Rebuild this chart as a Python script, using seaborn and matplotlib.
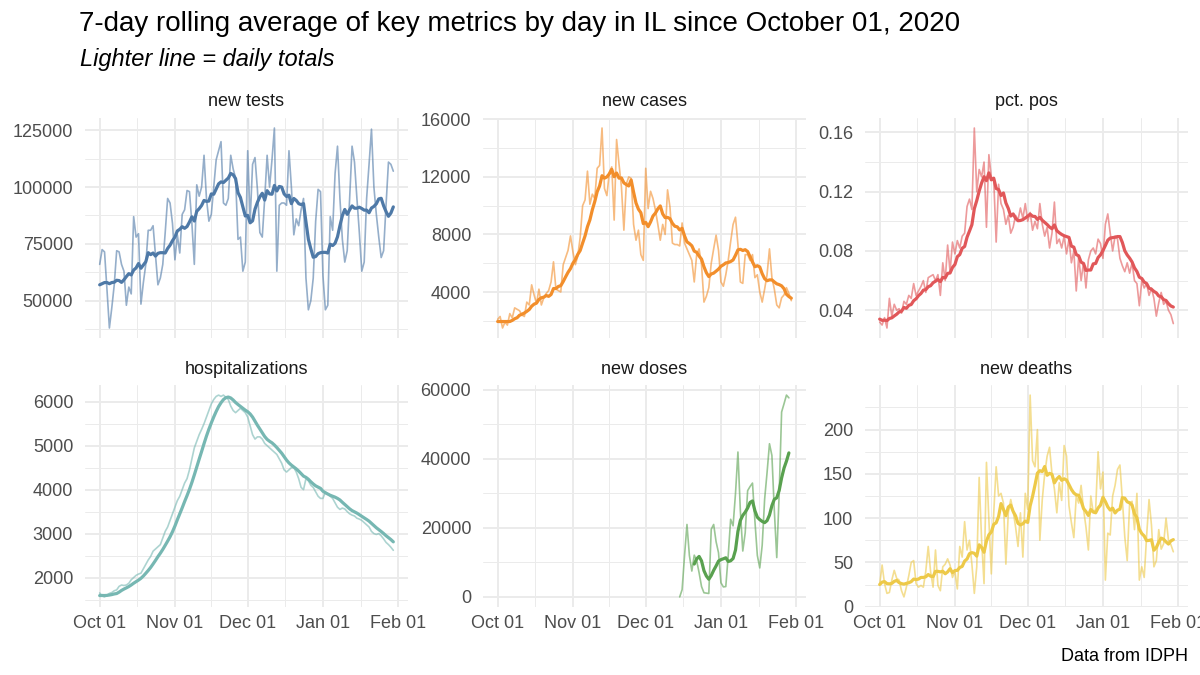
import numpy as np
import pandas as pd
import matplotlib
matplotlib.use("Agg")
import matplotlib.pyplot as plt
import matplotlib.dates as mdates
from matplotlib.ticker import FixedLocator, FixedFormatter
import seaborn as sns

# ---------------- data ----------------
START = "2020-10-01"
N_DAYS = 122
DOSES_START = "2020-12-15"
N_BEFORE = 6   # days before START (Sep 25-30), only feed the first rolling averages

metrics = ["new tests", "new cases", "pct. pos", "hospitalizations", "new doses", "new deaths"]
colors = ["#4E79A7", "#F28E2B", "#E15759", "#76B7B2", "#59A14F", "#EDC948"]

tests_before = [69000, 68000, 55000, 41500, 43500, 56000]
new_tests = [
    66000, 72500, 71500, 55000, 38000, 47000, 57000,
    72000, 71500, 66000, 63000, 48000, 56000, 53000,
    87000, 78000, 79500, 48500, 58000, 66000, 81000,
    81000, 83000, 70000, 57000, 60000, 66000, 80000,
    95000, 93000, 84000, 68000, 79000, 71000, 88000,
    90000, 98500, 98000, 84000, 66000, 101000, 96000,
    100000, 114000, 95000, 85000, 88000, 100000, 112000,
    116000, 120000, 93000, 92000, 95000, 114000, 108000,
    104000, 77000, 78000, 63000, 67000, 116000, 85000,
    110000, 113000, 99000, 80000, 78000, 95000, 114000,
    100000, 112000, 126000, 63000, 92000, 93000, 93000,
    92000, 116000, 100000, 79000, 86000, 83000, 90000,
    95000, 60000, 46000, 50000, 60000, 85000, 99000,
    98000, 61000, 46000, 48000, 87000, 81000, 106000,
    118000, 95000, 77000, 67000, 72000, 95000, 118000,
    111000, 95000, 80000, 63000, 67000, 95000, 110000,
    125500, 100000, 88000, 78000, 69000, 72000, 92000,
    111000, 110000, 107000,
]

cases_before = [2300, 1500, 1900, 1700, 2500, 1650]
new_cases = [
    2100, 2300, 1500, 1900, 1700, 2500, 2200,
    2900, 2800, 2700, 2400, 2300, 3300, 3100,
    4500, 3800, 3200, 4200, 3100, 3600, 3900,
    4100, 4700, 6100, 4200, 4100, 4000, 5900,
    6400, 6900, 7900, 6800, 5900, 6500, 7800,
    10000, 10400, 12400, 10100, 10800, 10500, 12600,
    12800, 15400, 11200, 10700, 12300, 12700, 9000,
    14600, 12900, 11300, 8300, 11500, 12000, 11900,
    8700, 7600, 8300, 6600, 6200, 12600, 9800,
    11000, 10500, 9700, 8700, 7600, 8700, 8000,
    11100, 9900, 7400, 7300, 7300, 7200, 8800,
    7400, 7000, 6600, 6200, 4700, 6600, 7000,
    5900, 3300, 3700, 4300, 6000, 7000, 7950,
    6900, 4700, 4400, 5200, 6200, 7500, 8700,
    9200, 7300, 4700, 4600, 6600, 6600, 6200,
    6600, 5000, 5200, 4000, 3300, 4200, 5200,
    7000, 5000, 4200, 3100, 2900, 3600, 3800,
    4300, 3900, 3400,
]

pct_before = [.036, .034, .030, .038, .033, .035]
pct_pos = [
    .032, .030, .035, .028, .048, .036, .044,
    .040, .041, .038, .046, .044, .050, .048,
    .058, .050, .053, .056, .060, .052, .062,
    .063, .064, .060, .064, .050, .072, .060,
    .084, .066, .086, .078, .087, .082, .090,
    .092, .110, .115, .108, .163, .120, .135,
    .130, .140, .096, .145, .130, .128, .086,
    .125, .112, .108, .098, .104, .092, .096,
    .104, .101, .109, .102, .112, .100, .106,
    .094, .100, .095, .112, .098, .090, .096,
    .082, .092, .113, .085, .088, .082, .090,
    .078, .088, .072, .080, .053, .076, .060,
    .072, .055, .074, .080, .082, .078, .088,
    .085, .075, .098, .105, .092, .080, .090,
    .088, .075, .070, .066, .072, .065, .072,
    .060, .058, .043, .060, .055, .058, .050,
    .055, .048, .036, .045, .052, .044, .046,
    .040, .037, .031,
]

hosp_before = [1560, 1570, 1580, 1580, 1590, 1600]
hospitalizations = [
    1650, 1580, 1560, 1600, 1640, 1660, 1700,
    1720, 1800, 1830, 1820, 1830, 1870, 1950,
    2000, 2050, 2080, 2100, 2200, 2300, 2400,
    2480, 2600, 2650, 2700, 2750, 2900, 3050,
    3150, 3300, 3450, 3600, 3750, 3850, 4000,
    4150, 4250, 4450, 4700, 4950, 5100, 5250,
    5370, 5500, 5650, 5800, 5950, 6050, 6120,
    6150, 6120, 6150, 6100, 6050, 5900, 5800,
    5750, 5800, 5850, 5800, 5750, 5650, 5450,
    5250, 5150, 5200, 5200, 5150, 5050, 5000,
    4950, 4900, 4850, 4800, 4700, 4600, 4450,
    4400, 4450, 4500, 4500, 4400, 4250, 4050,
    4000, 4250, 4200, 4100, 4050, 3950, 3850,
    3800, 3800, 3950, 3900, 3850, 3800, 3700,
    3600, 3550, 3580, 3560, 3500, 3450, 3420,
    3400, 3350, 3330, 3300, 3250, 3200, 3150,
    3050, 3000, 2980, 3000, 2950, 2880, 2800,
    2750, 2690, 2620,
]

# doses reported from DOSES_START onward
new_doses = [
    0, 2100, 12000, 21000, 12000, 7500, 12100,
    10500, 7000, 3000, 1200, 1100, 1000, 19600,
    21000, 16000, 12800, 4100, 2900, 3000, 12000,
    22500, 20600, 30000, 42000, 25000, 13300, 18600,
    30800, 32000, 33000, 22000, 12000, 8400, 15000,
    28300, 36000, 44400, 41000, 25000, 11400, 30000,
    53600, 56000, 58500, 57700,
]

deaths_before = [28, 22, 31, 18, 26, 25]
new_deaths = [
    25, 47, 26, 15, 16, 30, 41,
    32, 30, 18, 11, 22, 35, 50,
    52, 26, 22, 24, 22, 40, 68,
    39, 22, 64, 24, 18, 45, 48,
    54, 47, 33, 40, 20, 68, 56,
    96, 64, 75, 48, 15, 45, 146,
    75, 26, 163, 98, 37, 106, 158,
    125, 128, 117, 48, 106, 121, 108,
    90, 68, 106, 56, 128, 110, 239,
    165, 158, 200, 75, 121, 150, 170,
    180, 150, 133, 106, 140, 120, 182,
    170, 114, 95, 78, 125, 117, 137,
    110, 90, 64, 125, 106, 110, 175,
    133, 152, 30, 83, 81, 125, 137,
    155, 160, 121, 79, 52, 117, 119,
    87, 128, 30, 45, 33, 80, 121,
    92, 45, 52, 87, 65, 71, 100,
    75, 70, 62,
]

y_ticks = {
    "new tests": [50000, 75000, 100000, 125000],
    "new cases": [4000, 8000, 12000, 16000],
    "pct. pos": [0.04, 0.08, 0.12, 0.16],
    "hospitalizations": [2000, 3000, 4000, 5000, 6000],
    "new doses": [0, 20000, 40000, 60000],
    "new deaths": [0, 50, 100, 150, 200],
}
y_tick_labels = {
    "new tests": ["50000", "75000", "100000", "125000"],
    "new cases": ["4000", "8000", "12000", "16000"],
    "pct. pos": ["0.04", "0.08", "0.12", "0.16"],
    "hospitalizations": ["2000", "3000", "4000", "5000", "6000"],
    "new doses": ["0", "20000", "40000", "60000"],
    "new deaths": ["0", "50", "100", "150", "200"],
}
x_tick_dates = ["2020-10-01", "2020-11-01", "2020-12-01", "2021-01-01", "2021-02-01"]
x_tick_labels = ["Oct 01", "Nov 01", "Dec 01", "Jan 01", "Feb 01"]

title = "7-day rolling average of key metrics by day in IL since October 01, 2020"
subtitle = "Lighter line = daily totals"
caption = "Data from IDPH"

# ---------------- build table ----------------
sns.set_theme(style="white")
plt.rcParams["font.family"] = ["Liberation Sans", "DejaVu Sans"]

dates = pd.date_range(START, periods=N_DAYS, freq="D")
all_dates = pd.date_range(pd.Timestamp(START) - pd.Timedelta(days=N_BEFORE),
                          periods=N_DAYS + N_BEFORE, freq="D")
doses_series = pd.Series(new_doses, dtype=float,
                         index=pd.date_range(DOSES_START, periods=len(new_doses), freq="D")
                         ).reindex(all_dates)

daily = {
    "new tests": tests_before + new_tests,
    "new cases": cases_before + new_cases,
    "pct. pos": pct_before + pct_pos,
    "hospitalizations": hosp_before + hospitalizations,
    "new doses": doses_series.values,
    "new deaths": deaths_before + new_deaths,
}
frames = []
for m in metrics:
    s = pd.Series(daily[m], index=all_dates, dtype=float)
    roll = s.rolling(7).mean()
    frames.append(pd.DataFrame({"date": dates, "metric": m,
                                "daily": s.loc[dates].values,
                                "rolling": roll.loc[dates].values}))
df = pd.concat(frames, ignore_index=True)

# ---------------- figure ----------------
W, H = 1200, 675
fig = plt.figure(figsize=(W / 100, H / 100), dpi=100)
fig.patch.set_facecolor("white")

col_left = [85, 483, 865]
panel_w = 323
row_top = [118, 385]
panel_h = [220, 222]

grid_col = "#EBEBEB"
tick_col = "#4D4D4D"
x0 = mdates.date2num(pd.Timestamp(START))
xlim = (x0 - 0.05 * (N_DAYS - 1), x0 + (N_DAYS - 1) * 1.05)
major_x = [mdates.date2num(pd.Timestamp(d)) for d in x_tick_dates]
minor_x = [(a + b) / 2 for a, b in zip(major_x[:-1], major_x[1:])]

for i, m in enumerate(metrics):
    r, c = divmod(i, 3)
    ax = fig.add_axes([col_left[c] / W, 1 - (row_top[r] + panel_h[r]) / H,
                       panel_w / W, panel_h[r] / H])
    sub = df[df["metric"] == m].dropna(subset=["daily"])
    sns.lineplot(data=sub, x="date", y="daily", ax=ax, color=colors[i],
                 alpha=0.6, linewidth=1.2, estimator=None, errorbar=None)
    subr = df[df["metric"] == m].dropna(subset=["rolling"])
    sns.lineplot(data=subr, x="date", y="rolling", ax=ax, color=colors[i],
                 linewidth=2.3, estimator=None, errorbar=None)
    ax.set_xlim(*xlim)
    ax.margins(y=0.05)
    ax.autoscale(axis="y")

    yt = y_ticks[m]
    step = yt[1] - yt[0]
    lo, hi = ax.get_ylim()
    minors = [v + step / 2 for v in [yt[0] - step] + yt]
    minors = [v for v in minors if lo <= v <= hi]
    ax.yaxis.set_major_locator(FixedLocator(yt))
    ax.yaxis.set_major_formatter(FixedFormatter(y_tick_labels[m]))
    ax.yaxis.set_minor_locator(FixedLocator(minors))
    ax.xaxis.set_major_locator(FixedLocator(major_x))
    ax.xaxis.set_major_formatter(FixedFormatter(x_tick_labels))
    ax.xaxis.set_minor_locator(FixedLocator(minor_x))
    ax.set_ylim(lo, hi)

    ax.set_axisbelow(True)
    ax.grid(which="major", color=grid_col, linewidth=1.4)
    ax.grid(which="minor", color=grid_col, linewidth=0.7)
    for sp in ax.spines.values():
        sp.set_visible(False)
    ax.set_facecolor("white")
    ax.tick_params(which="both", length=0)
    ax.tick_params(axis="y", pad=8.5, labelsize=13, labelcolor=tick_col)
    ax.tick_params(axis="x", pad=5.5, labelsize=13, labelcolor=tick_col)
    if r == 0:
        ax.tick_params(axis="x", labelbottom=False)
    ax.set_xlabel("")
    ax.set_ylabel("")
    ax.text(0.5, 1 + 11.5 / panel_h[r], m, transform=ax.transAxes, ha="center",
            va="baseline", fontsize=13, color="#1A1A1A")

fig.text(79 / W, 1 - 31 / H, title, fontsize=20, color="black", va="baseline", ha="left")
fig.text(80 / W, 1 - 66 / H, subtitle, fontsize=17, style="italic", color="black",
         va="baseline", ha="left")
fig.text(1188 / W, 1 - 661 / H, caption, fontsize=13, color="black", va="baseline", ha="right")

fig.savefig("out.png", dpi=100, facecolor="white")
